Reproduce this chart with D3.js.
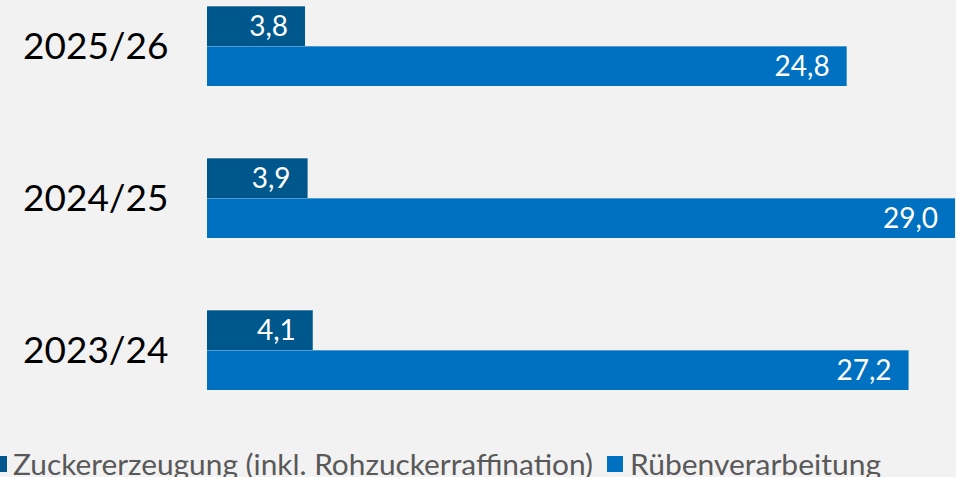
<!DOCTYPE html>
<html>
<head>
<meta charset="utf-8">
<script src="https://cdn.jsdelivr.net/npm/d3@7"></script>
<style>
  html, body { margin: 0; padding: 0; background: #f2f2f2; }
  svg { display: block; }
</style>
</head>
<body>
<svg></svg>
<script>
// data
var years = ['2025/26', '2024/25', '2023/24'];
var seriesNames = ['Zuckererzeugung (inkl. Rohzuckerraffination)', 'Rübenverarbeitung'];
var zucker = [3.8, 3.9, 4.1];
var rueben = [24.8, 29.0, 27.2];
var colors = ['#00578c', '#0070c0'];

var svgWidth = 956,
    svgHeight = 477;

var svg = d3.select('svg')
    .attr('width', svgWidth)
    .attr('height', svgHeight);

svg.append('rect')
    .attr('width', svgWidth)
    .attr('height', svgHeight)
    .attr('fill', '#f2f2f2');

var xScale = d3.scaleLinear()
    .domain([0, 29])
    .range([207, 955]);

var yScale = d3.scalePoint()
    .domain(years)
    .range([46, 350]);

var sub = d3.scaleBand()
    .domain([0, 1])
    .range([-40, 40]);

var rows = years.map(function (y, i) {
    return {year: y, values: [zucker[i], rueben[i]]};
});

var group = svg.selectAll('.group')
    .data(rows)
    .enter()
    .append('g')
    .attr('class', 'group')
    .attr('transform', function (d) {
        return 'translate(0,' + yScale(d.year) + ')';
    });

// year labels
group.append('text')
    .attr('x', 23)
    .attr('y', 13)
    .attr('font-family', 'Lato, sans-serif')
    .attr('font-size', 37)
    .attr('fill', '#000')
    .text(function (d) { return d.year; });

var bars = group.selectAll('.bar')
    .data(function (d) {
        return d.values.map(function (v, k) { return {v: v, k: k}; });
    })
    .enter()
    .append('g')
    .attr('class', 'bar');

bars.append('rect')
    .attr('x', xScale(0))
    .attr('y', function (d) { return sub(d.k); })
    .attr('width', function (d) { return xScale(d.v) - xScale(0); })
    .attr('height', sub.bandwidth())
    .attr('fill', function (d) { return colors[d.k]; });

bars.append('line')
    .attr('x1', xScale(0))
    .attr('x2', function (d) { return xScale(d.v); })
    .attr('y1', function (d) { return sub(d.k) + 0.5; })
    .attr('y2', function (d) { return sub(d.k) + 0.5; })
    .attr('stroke', '#ffffff')
    .attr('stroke-opacity', 0.3)
    .attr('stroke-width', 1);

bars.append('text')
    .attr('x', function (d) { return xScale(d.v) - 17; })
    .attr('y', function (d) { return sub(d.k) + 30; })
    .attr('text-anchor', 'end')
    .attr('font-family', 'Lato, sans-serif')
    .attr('font-size', 28)
    .attr('fill', '#fff')
    .text(function (d) { return d3.format('.1f')(d.v).replace('.', ','); });

// legend
var legend = svg.append('g');
legend.append('rect')
    .attr('x', -9).attr('y', 456).attr('width', 16).attr('height', 16)
    .attr('fill', colors[0]);
legend.append('text')
    .attr('x', 13).attr('y', 475)
    .attr('font-family', 'Lato, sans-serif')
    .attr('font-size', 28)
    .attr('fill', '#595959')
    .attr('textLength', 580)
    .attr('lengthAdjust', 'spacingAndGlyphs')
    .text(seriesNames[0]);
legend.append('rect')
    .attr('x', 607).attr('y', 456).attr('width', 16).attr('height', 16)
    .attr('fill', colors[1]);
legend.append('text')
    .attr('x', 630).attr('y', 475)
    .attr('font-family', 'Lato, sans-serif')
    .attr('font-size', 28)
    .attr('fill', '#595959')
    .attr('textLength', 251)
    .attr('lengthAdjust', 'spacingAndGlyphs')
    .text(seriesNames[1]);
</script>
</body>
</html>
